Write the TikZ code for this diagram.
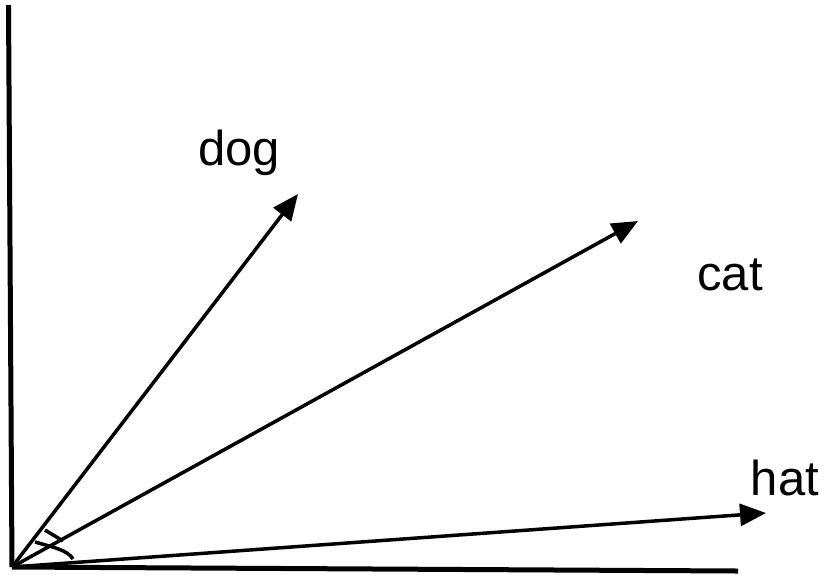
\documentclass[tikz,border=0pt]{standalone}
\usepackage{fontspec}
\setmainfont{Liberation Sans}
\usetikzlibrary{arrows.meta}
\begin{document}
\begin{tikzpicture}[x=1pt,y=-1pt,
  axis/.style={line width=5pt},
  vec/.style={line width=3.5pt,-{Triangle[length=26pt,width=22pt]}},
  anglemark/.style={line width=3.5pt},
  lbl/.style={font=\fontsize{49}{56}\selectfont,anchor=base,inner sep=0pt}]
\useasboundingbox (0,0) rectangle (826,574);
\coordinate (o) at (12,567);
\coordinate (ytop) at (8.5,5);
\coordinate (xend) at (738,571);
\coordinate (dtip) at (298,194);
\coordinate (ctip) at (638,221);
\coordinate (htip) at (766,513);
\draw[axis] (ytop) -- (o);
\draw[axis] (o) -- (xend);
\draw[vec] (o) -- (dtip);
\draw[vec] (o) -- (ctip);
\draw[vec] (o) -- (htip);
\draw[anglemark] (35,542) .. controls (52,547) and (68,550) .. (73,559);
\draw[anglemark] (45,530) -- (63,541);
\node[lbl] (dog) at (239,165) {dog};
\node[lbl] (cat) at (730,290) {cat};
\node[lbl] (hat) at (785,495) {hat};
\end{tikzpicture}
\end{document}
